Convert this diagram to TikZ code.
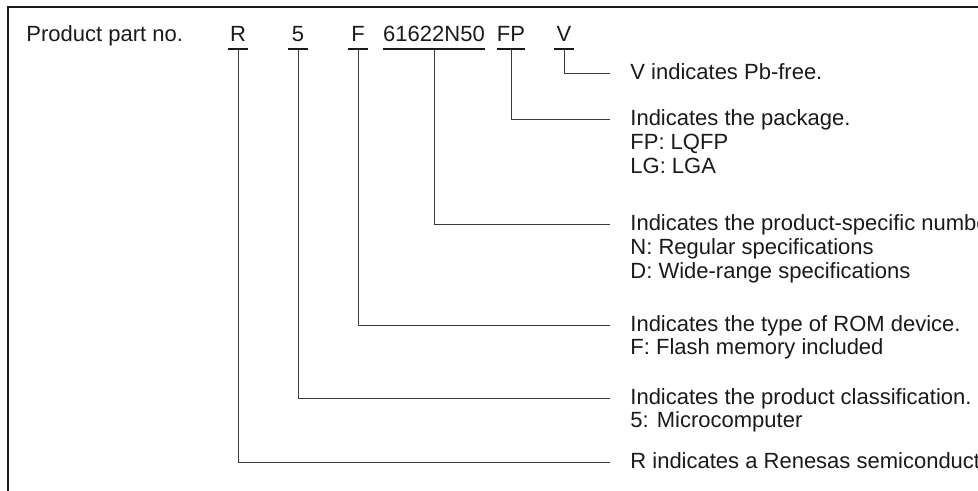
\documentclass[tikz,border=0pt]{standalone}
\usepackage{fontspec}
\setmainfont{Liberation Sans}
\usetikzlibrary{positioning}
\definecolor{ink}{HTML}{1A1A1A}
\definecolor{wire}{HTML}{3A3A3A}

\begin{document}
\begin{tikzpicture}[x=0.5pt,y=-0.5pt,font=\fontsize{11pt}{11.5pt}\selectfont,
  code/.style={inner xsep=0pt,inner ysep=3.5pt,text depth=0pt,minimum width=10pt,anchor=base,ink},
  desc/.style={inner sep=0pt,text height=8.75pt,text depth=2.75pt,anchor=west,ink},
  uline/.style={line width=1pt,ink},
  link/.style={line width=0.5pt,wire}]
  \useasboundingbox (0,0) rectangle (978,491);
  \clip (0,0) rectangle (978,491);
  % frame
  \draw[line width=1pt,ink] (8,495) -- (8,7) -- (982,7);
  % part number
  \node[anchor=base west,inner sep=0pt,ink] (title) at (26,42) {Product part no.};
  \node[code] (cR) at (238,42) {R};
  \node[code] (c5) at (298,42) {5};
  \node[code] (cF) at (358,42) {F};
  \node[code] (cN) at (434,42) {61622N50};
  \node[code] (cFP) at (511,42) {FP};
  \node[code] (cV) at (564,42) {V};
  \foreach \n in {cR,c5,cF,cN,cFP,cV}
    \draw[uline] (\n.south west) -- (\n.south east);
  % descriptions
  \node[desc] (dV) at (630,74) {V indicates Pb-free.};
  \node[desc] (dFP) at (630,120) {Indicates the package.};
  \node[desc,below=0pt of dFP.south west,anchor=north west] (dFP2) {FP: LQFP};
  \node[desc,below=0pt of dFP2.south west,anchor=north west] (dFP3) {LG: LGA};
  \node[desc] (dN) at (630,225) {Indicates the product-specific number.};
  \node[desc,below=0pt of dN.south west,anchor=north west] (dN2) {N: Regular specifications};
  \node[desc,below=0pt of dN2.south west,anchor=north west] (dN3) {D: Wide-range specifications};
  \node[desc] (dF) at (630,325) {Indicates the type of ROM device.};
  \node[desc,below=0pt of dF.south west,anchor=north west] (dF2) {F: Flash memory included};
  \node[desc] (d5) at (630,398) {Indicates the product classification.};
  \node[desc,below=0pt of d5.south west,anchor=north west] (d52) {5: Microcomputer};
  \node[desc] (dR) at (630,462) {R indicates a Renesas semiconductor.};
  % connectors
  \foreach \c/\d in {cV/dV,cFP/dFP,cN/dN,cF/dF,c5/d5,cR/dR}
    \draw[link] (\c.south) |- ([xshift=-10pt]\d.west);
\end{tikzpicture}
\end{document}
